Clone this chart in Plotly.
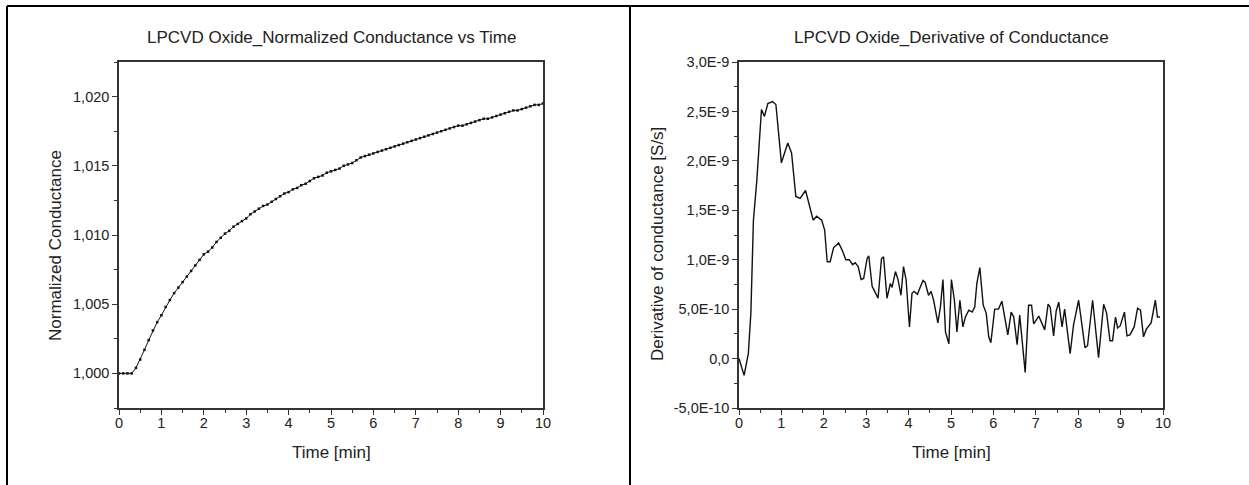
import plotly.graph_objects as go

# ---------------- data ----------------
time_norm = [round(i * 0.1, 1) for i in range(101)]
norm_conductance = [
    1.0000, 1.0000, 1.0000, 1.0000, 1.0004, 1.0010, 1.0017, 1.0024, 1.0031, 1.0037,
    1.0042, 1.0048, 1.0053, 1.0058, 1.0062, 1.0066, 1.0070, 1.0074, 1.0078, 1.0082,
    1.0086, 1.0088, 1.0091, 1.0095, 1.0098, 1.0101, 1.0103, 1.0106, 1.0108, 1.0110,
    1.0112, 1.0115, 1.0117, 1.0119, 1.0121, 1.0122, 1.0124, 1.0126, 1.0128, 1.0130,
    1.0131, 1.0133, 1.0134, 1.0136, 1.0137, 1.0139, 1.0141, 1.0142, 1.0143, 1.0145,
    1.0146, 1.0147, 1.0148, 1.0150, 1.0151, 1.0152, 1.0154, 1.0156, 1.0157, 1.0158,
    1.0159, 1.0160, 1.0161, 1.0162, 1.0163, 1.0164, 1.0165, 1.0166, 1.0167, 1.0168,
    1.0169, 1.0170, 1.0171, 1.0172, 1.0173, 1.0174, 1.0175, 1.0176, 1.0177, 1.0178,
    1.0179, 1.0179, 1.0180, 1.0181, 1.0182, 1.0183, 1.0184, 1.0184, 1.0185, 1.0186,
    1.0187, 1.0188, 1.0189, 1.0190, 1.0190, 1.0191, 1.0192, 1.0193, 1.0194, 1.0194,
    1.0195,
]

time_deriv = [
    0.0, 0.12, 0.22, 0.28, 0.34, 0.42, 0.53, 0.60, 0.68, 0.79, 0.87, 1.00, 1.15, 1.24,
    1.34, 1.44, 1.57, 1.75, 1.83, 1.95, 2.02, 2.08, 2.15, 2.23, 2.35, 2.43, 2.52, 2.60,
    2.68, 2.74, 2.81, 2.88, 2.94, 3.02, 3.06, 3.14, 3.20, 3.28, 3.36, 3.41, 3.49, 3.57,
    3.61, 3.69, 3.75, 3.82, 3.88, 3.94, 4.02, 4.08, 4.13, 4.21, 4.28, 4.34, 4.39, 4.47,
    4.53, 4.59, 4.69, 4.75, 4.81, 4.87, 4.95, 5.01, 5.08, 5.14, 5.21, 5.28, 5.34, 5.42,
    5.50, 5.56, 5.61, 5.68, 5.76, 5.83, 5.89, 5.94, 6.03, 6.12, 6.20, 6.28, 6.34, 6.42,
    6.48, 6.56, 6.62, 6.75, 6.83, 6.90, 6.95, 7.07, 7.15, 7.21, 7.29, 7.34, 7.42, 7.48,
    7.54, 7.62, 7.68, 7.81, 7.89, 8.01, 8.16, 8.22, 8.34, 8.48, 8.60, 8.67, 8.75, 8.81,
    8.88, 8.93, 8.99, 9.09, 9.15, 9.22, 9.32, 9.40, 9.47, 9.54, 9.61, 9.72, 9.82, 9.87,
    9.93,
]
# derivative of conductance, in units of 1e-10 S/s
deriv_e10 = [
    0.0, -1.7, 0.5, 4.6, 14.0, 18.0, 25.2, 24.5, 25.8, 26.0, 25.7, 19.8, 21.8, 20.8,
    16.4, 16.2, 17.0, 14.0, 14.4, 14.0, 13.0, 9.8, 9.8, 11.2, 11.7, 11.0, 10.0, 10.0,
    9.5, 9.7, 9.3, 8.0, 8.1, 10.1, 10.4, 7.3, 6.8, 6.1, 10.1, 10.3, 6.1, 7.6,
    7.2, 8.8, 8.0, 6.4, 9.3, 8.0, 3.2, 6.6, 6.8, 6.5, 7.3, 7.9, 7.7, 6.4,
    6.8, 5.9, 3.6, 5.2, 8.0, 2.7, 1.5, 8.0, 5.9, 2.7, 5.9, 3.2, 4.2, 4.9,
    4.7, 5.2, 7.6, 9.2, 5.4, 4.6, 2.2, 1.6, 5.0, 5.0, 5.8, 3.9, 2.4, 4.7,
    4.2, 1.4, 4.4, -1.4, 5.4, 5.4, 3.5, 4.3, 3.4, 2.9, 5.5, 5.2, 2.3, 4.8,
    5.7, 3.2, 5.0, 0.5, 3.4, 5.9, 1.1, 1.3, 5.9, 0.1, 5.5, 4.6, 1.8, 1.8,
    4.2, 3.1, 3.3, 4.7, 2.3, 2.4, 3.2, 5.1, 4.9, 2.2, 3.0, 3.6, 5.9, 4.2,
    4.2,
]
deriv = [v * 1e-10 for v in deriv_e10]

x_ticks = [0, 1, 2, 3, 4, 5, 6, 7, 8, 9, 10]
y1_ticks = [1.000, 1.005, 1.010, 1.015, 1.020]
y2_ticks = [-5e-10, 0, 5e-10, 1e-9, 1.5e-9, 2e-9, 2.5e-9, 3e-9]
y2_ticktext = ["-5,0E-10", "0,0", "5,0E-10", "1,0E-9", "1,5E-9", "2,0E-9", "2,5E-9", "3,0E-9"]

title_left = "LPCVD Oxide_Normalized Conductance vs Time"
title_right = "LPCVD Oxide_Derivative of Conductance"
xlabel = "Time [min]"
ylabel_left = "Normalized Conductance"
ylabel_right = "Derivative of conductance [S/s]"

# ---------------- layout helpers ----------------
W, H = 1249, 485
FONT = "Liberation Sans, Arial, sans-serif"


def px(x):
    return x / W


def py(y):
    return 1 - y / H


fig = go.Figure()

fig.add_trace(go.Scatter(
    x=time_norm, y=norm_conductance, mode="lines+markers",
    line=dict(color="#111111", width=1),
    marker=dict(symbol="square", size=2.5, color="#111111"),
    xaxis="x", yaxis="y", showlegend=False,
))
fig.add_trace(go.Scatter(
    x=time_deriv, y=deriv, mode="lines",
    line=dict(color="#111111", width=1.4),
    xaxis="x2", yaxis="y2", showlegend=False,
))

axis_common = dict(
    showline=True, linecolor="#333333", linewidth=1.5, mirror=True,
    ticks="outside", ticklen=5, tickwidth=1.3, tickcolor="#333333",
    showgrid=False, zeroline=False,
    tickfont=dict(family=FONT, size=14.5, color="#222222"),
    automargin=False,
)

xminor = dict(ticks="outside", ticklen=3, dtick=0.5, tickcolor="#333333")

fig.update_layout(
    width=W, height=H,
    margin=dict(l=0, r=0, t=0, b=0),
    paper_bgcolor="white", plot_bgcolor="white",
    separators=",.",
    font=dict(family=FONT, color="#222222"),
    xaxis=dict(domain=[px(119), px(543)], range=[0, 10], anchor="y",
               tickvals=x_ticks, minor=xminor, ticklabelstandoff=-4,
               **axis_common),
    yaxis=dict(domain=[py(408), py(62)], range=[0.9975, 1.0225], anchor="x",
               tickvals=y1_ticks, tickformat=".3f",
               minor=dict(ticks="outside", ticklen=3, dtick=0.0025, tickcolor="#333333"),
               **axis_common),
    xaxis2=dict(domain=[px(739), px(1163)], range=[0, 10], anchor="y2",
                tickvals=x_ticks, minor=xminor, ticklabelstandoff=-4,
                **axis_common),
    yaxis2=dict(domain=[py(408), py(62)], range=[-5e-10, 3e-9], anchor="x2",
                tickvals=y2_ticks, ticktext=y2_ticktext,
                minor=dict(ticks="outside", ticklen=3, dtick=2.5e-10, tickcolor="#333333"),
                **axis_common),
)

text_font = dict(family=FONT, size=17, color="#222222")
annotations = [
    dict(text=title_left, x=px(331), y=py(38)),
    dict(text=title_right, x=px(951), y=py(38)),
    dict(text=xlabel, x=px(331), y=py(452)),
    dict(text=xlabel, x=px(951), y=py(452)),
    dict(text=ylabel_left, x=px(55), y=py(246), textangle=-90),
    dict(text=ylabel_right, x=px(657), y=py(244), textangle=-90),
]
for a in annotations:
    fig.add_annotation(xref="paper", yref="paper", showarrow=False,
                       xanchor="center", yanchor="middle", font=text_font, **a)

# outer frame and divider
frame = dict(type="line", xref="paper", yref="paper", line=dict(color="black", width=2))
fig.add_shape(x0=px(7), x1=1, y0=py(6), y1=py(6), **frame)
fig.add_shape(x0=px(7), x1=px(7), y0=py(6), y1=0, **frame)
fig.add_shape(x0=px(630), x1=px(630), y0=py(6), y1=0, **frame)

fig.write_html("out.html")
